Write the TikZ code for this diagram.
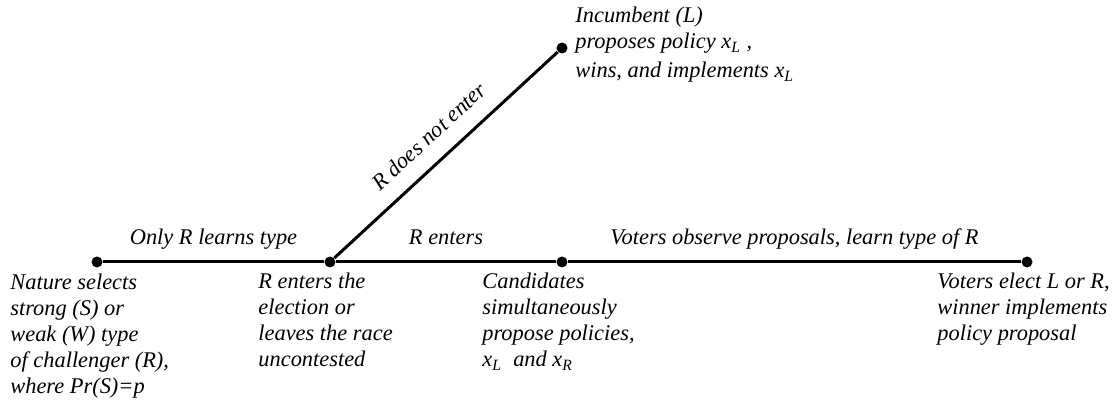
\documentclass[tikz,border=0pt]{standalone}
\usepackage{fontspec}
\setmainfont{Liberation Serif}
\usetikzlibrary{positioning}
\newcommand{\xsub}[1]{x\textsubscript{#1}}

\begin{document}
\begin{tikzpicture}[x=0.5pt, y=-0.5pt,
  every node/.style={font=\fontsize{11.2}{13}\selectfont\itshape},
  stage/.style={circle, fill, inner sep=0pt, minimum size=5.5pt},
  branch/.style={line width=1.5pt},
  move/.style={above=3.5pt, text height=1.5ex, text depth=0.3ex},
  note/.style={anchor=north west, align=left, inner sep=0pt}]
  \useasboundingbox (0,0) rectangle (1117,416);

  % Decision points on the time line
  \node[stage] (nature) at (97,262) {};
  \node[stage] (entry) at (330,262) {};
  \node[stage] (propose) at (562,262) {};
  \node[stage] (elect) at (1027,262) {};
  \node[stage] (stay) at (562,48) {};

  % Branches
  \draw[branch] (nature) -- node[move] {Only R learns type} (entry);
  \draw[branch] (entry) -- node[move] {R enters} (propose);
  \draw[branch] (propose) -- node[move] {Voters observe proposals, learn type of R} (elect);
  \draw[branch] (entry) -- node[move, sloped] {R does not enter} (stay);

  % What happens at each point
  \node[note] (natureText) at (10,274)
    {Nature selects\\strong (S) or\\weak (W) type\\of challenger (R),\\where Pr(S)=p};
  \node[note] (entryText) at (258,273)
    {R enters the\\election or\\leaves the race\\uncontested};
  \node[note] (proposeText) at (482,273)
    {Candidates\\simultaneously\\propose policies,\\\xsub{L}\ \ and \xsub{R}};
  \node[note] (electText) at (937,273)
    {Voters elect L or R,\\winner implements\\policy proposal};
  \node[note] (stayText) at (575,7)
    {Incumbent (L)\\proposes policy \xsub{L} ,\\[1.5pt]wins, and implements \xsub{L}};
\end{tikzpicture}
\end{document}
